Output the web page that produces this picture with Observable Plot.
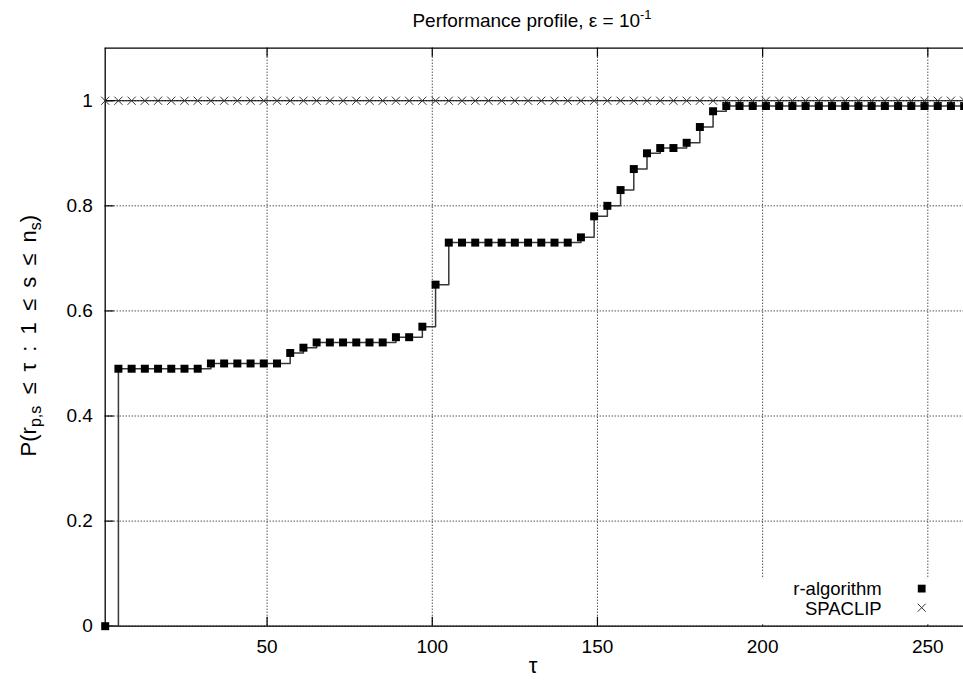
<!DOCTYPE html>
<html>
<head>
<meta charset="utf-8">
<script src="https://cdn.jsdelivr.net/npm/d3@7"></script>
<script src="https://cdn.jsdelivr.net/npm/@observablehq/plot@0.6"></script>
<style>
  html, body { margin: 0; padding: 0; background: white; overflow: hidden; }
  svg { display: block; }
</style>
</head>
<body>
<div id="chart"></div>
<script>
// ---- data ----
const tau = [1,5,9,13,17,21,25,29,33,37,41,45,49,53,57,61,65,69,73,77,81,85,89,93,97,101,105,109,113,117,121,125,129,133,137,141,145,149,153,157,161,165,169,173,177,181,185,189,193,197,201,205,209,213,217,221,225,229,233,237,241,245,249,253,257,261];
const rAlgorithm = [0,
  0.49,0.49,0.49,0.49,0.49,0.49,0.49,
  0.50,0.50,0.50,0.50,0.50,0.50,
  0.52,0.53,
  0.54,0.54,0.54,0.54,0.54,0.54,
  0.55,0.55,0.57,0.65,
  0.73,0.73,0.73,0.73,0.73,0.73,0.73,0.73,0.73,0.73,
  0.74,0.78,0.80,0.83,0.87,0.90,0.91,0.91,0.92,0.95,0.98,
  0.99,0.99,0.99,0.99,0.99,0.99,0.99,0.99,0.99,0.99,0.99,0.99,0.99,0.99,0.99,0.99,0.99,0.99,0.99];
const spaclip = [1,1,1,1,1,1,1,1,1,1,1,1,1,1,1,1,1,1,1,1,1,1,1,1,1,1,1,1,1,1,1,1,1,1,1,1,1,1,1,1,1,1,1,1,1,1,1,1,1,1,1,1,1,1,1,1,1,1,1,1,1,1,1,1,1,1];
const seriesNames = ["r-algorithm", "SPACLIP"];
const xTicks = [50, 100, 150, 200, 250];
const xTickLabels = ["50", "100", "150", "200", "250"];
const yTicks = [0, 0.2, 0.4, 0.6, 0.8, 1];
const yTickLabels = ["0", "0.2", "0.4", "0.6", "0.8", "1"];
const xDomain = [1, 260.8];
const yDomain = [0, 1.1];

const rData = tau.map((t, i) => ({tau: t, p: rAlgorithm[i]}));
const sData = tau.map((t, i) => ({tau: t, p: spaclip[i]}));

const W = 963, H = 686;
const mL = 104.7, mT = 47.7, mB = 60.3, mR = 0;
const frameW = W - mL - mR, frameH = H - mT - mB;
const tickLen = 9;
const FONT = "'Liberation Sans', Arial, Helvetica, sans-serif";

const plot = Plot.plot({
  width: W,
  height: H,
  marginLeft: mL,
  marginRight: mR,
  marginTop: mT,
  marginBottom: mB,
  x: {domain: xDomain},
  y: {domain: yDomain},
  style: {fontFamily: FONT, fontSize: "19px", color: "black", background: "white"},
  marks: [
    Plot.gridX(xTicks, {stroke: "black", strokeOpacity: 1, strokeWidth: 1, strokeDasharray: "1,2"}),
    Plot.gridY(yTicks, {stroke: "black", strokeOpacity: 1, strokeWidth: 1, strokeDasharray: "1,2"}),
    Plot.axisX(xTicks, {tickSize: 0, tickPadding: 13.5, label: null,
      tickFormat: d => xTickLabels[xTicks.indexOf(d)], fontSize: 19}),
    Plot.axisY(yTicks, {tickSize: 0, tickPadding: 12.4, label: null,
      tickFormat: d => yTickLabels[yTicks.indexOf(d)], fontSize: 19}),
    Plot.tickX(xTicks, {x: d => d, insetTop: frameH - tickLen, stroke: "black", strokeWidth: 1.2}),
    Plot.tickX(xTicks, {x: d => d, insetBottom: frameH - tickLen, stroke: "black", strokeWidth: 1.2}),
    Plot.tickY(yTicks, {y: d => d, insetRight: frameW - tickLen, stroke: "black", strokeWidth: 1.2}),
    Plot.ruleY([yDomain[0], yDomain[1]], {stroke: "black", strokeWidth: 1.3}),
    Plot.ruleX([xDomain[0]], {stroke: "black", strokeWidth: 1.3}),
    // r-algorithm
    Plot.line(rData, {x: "tau", y: "p", curve: "step-after", stroke: "#383838", strokeWidth: 1.5}),
    Plot.dot(rData, {x: "tau", y: "p", symbol: "square", r: 4.5, fill: "black", stroke: "none"}),
    // SPACLIP
    Plot.line(sData, {x: "tau", y: "p", stroke: "black", strokeWidth: 1}),
    Plot.dot(sData, {x: "tau", y: "p", symbol: "times", r: 3.8, stroke: "#333", strokeWidth: 1})
  ]
});

document.getElementById("chart").appendChild(plot);

const svg = d3.select(plot);
const txt = (g) => g.attr("font-family", FONT).attr("fill", "black");

// Title
const title = svg.append("text").call(txt)
  .attr("x", 532).attr("y", 26.7).attr("text-anchor", "middle").attr("font-size", 19);
title.append("tspan").text("Performance profile, ε = 10");
title.append("tspan").attr("dy", -8).attr("font-size", 13).text("-1");

// X label
svg.append("text").call(txt)
  .attr("x", 533).attr("y", 673).attr("text-anchor", "middle").attr("font-size", 22)
  .text("τ");

// Y label
const yl = svg.append("text").call(txt)
  .attr("transform", "translate(36,335.7) rotate(-90)")
  .attr("text-anchor", "middle").attr("font-size", 22)
  .attr("word-spacing", 5);
yl.append("tspan").text("P(r");
yl.append("tspan").attr("dy", 5).attr("font-size", 16).text("p,s");
yl.append("tspan").attr("dy", -5).attr("font-size", 22).text(" ≤ τ : 1 ≤ s ≤ n");
yl.append("tspan").attr("dy", 5).attr("font-size", 16).text("s");
yl.append("tspan").attr("dy", -5).attr("font-size", 22).text(")");

// Legend (opaque key box, as in gnuplot)
const lg = svg.append("g");
lg.append("rect").attr("x", 748).attr("y", 578.5).attr("width", 200).attr("height", 46).attr("fill", "white");
const keyX = 881.7, symX = 921.7;
const rows = [{y: 594.8, cy: 588.6}, {y: 614.6, cy: 607.7}];
seriesNames.forEach((name, i) => {
  lg.append("text").call(txt).attr("x", keyX).attr("y", rows[i].y)
    .attr("text-anchor", "end").attr("font-size", 18.5).text(name);
});
lg.append("rect").attr("x", symX - 3.9).attr("y", rows[0].cy - 3.9).attr("width", 7.8).attr("height", 7.8).attr("fill", "black");
const c = rows[1].cy, s = 4;
lg.append("path").attr("d", `M${symX - s},${c - s}L${symX + s},${c + s}M${symX - s},${c + s}L${symX + s},${c - s}`)
  .attr("stroke", "#333").attr("stroke-width", 1).attr("fill", "none");
</script>
</body>
</html>
